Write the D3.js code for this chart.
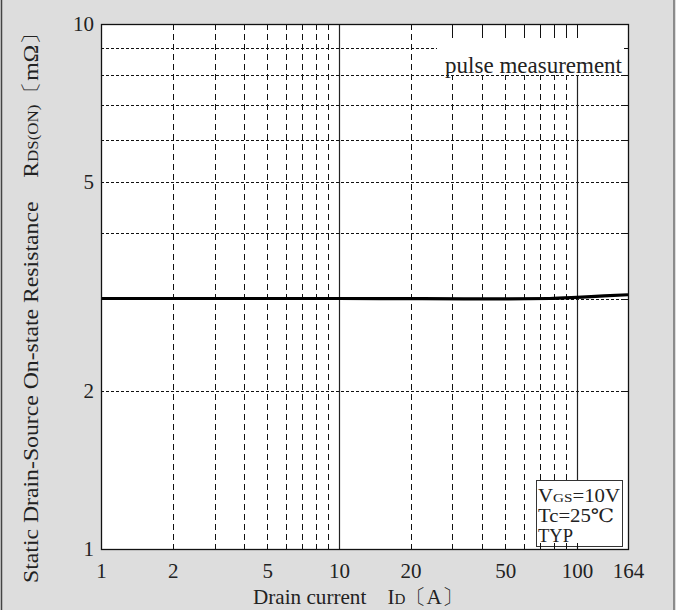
<!DOCTYPE html>
<html><head><meta charset="utf-8">
<script src="https://cdn.jsdelivr.net/npm/d3@7"></script>
<style>body{margin:0;background:#dddddd;overflow:hidden}</style>
</head><body><svg id="c" width="676" height="610"></svg>
<script>
// ---- data ----
const currentA   = [1, 10, 50, 77, 100, 130, 164];
const resistance = [3.0, 3.0, 2.995, 3.0, 3.015, 3.035, 3.05];
const xTickValues = [1, 2, 5, 10, 20, 50, 100, 164];
const yTickValues = [1, 2, 5, 10];
const xGridDashed = [2, 3, 4, 5, 6, 7, 8, 9, 20, 30, 40, 50, 60, 70, 80, 90];
const xGridSolid  = [10, 100];
const yGridDashed = [2, 3, 4, 5, 6, 7, 8, 9];
const topTickValues = [30, 40, 50, 60, 70, 80, 90, 100];
const bottomTickValues = [70, 80, 90, 100];
const condLines = [["V", "GS", "=10V"], ["Tc=25℃", "", ""], ["TYP", "", ""]];

// ---- layout ----
const L = 101, R = 628, T = 24, B = 549;
const FONT = "'Liberation Serif','DejaVu Serif','Times New Roman',serif";
const svg = d3.select("#c");
const x = d3.scaleLog().domain([1, 164]).range([L, R]);
const y = d3.scaleLog().domain([1, 10]).range([B, T]);

svg.append("rect").attr("width", 676).attr("height", 610).attr("fill", "#dddddd");
svg.append("line").attr("x1", 1.5).attr("x2", 1.5).attr("y1", 0).attr("y2", 610).attr("stroke", "#444").attr("stroke-width", 1.5);
svg.append("line").attr("x1", 674).attr("x2", 674).attr("y1", 0).attr("y2", 610).attr("stroke", "#555").attr("stroke-width", 1.2);

svg.append("rect").attr("x", L).attr("y", T).attr("width", R - L).attr("height", B - T).attr("fill", "#fff");

const g = svg.append("g");
g.selectAll(".vg").data(xGridDashed).enter().append("line")
  .attr("x1", d => Math.round(x(d)) + 0.5).attr("x2", d => Math.round(x(d)) + 0.5)
  .attr("y1", T).attr("y2", B)
  .attr("stroke", "#111").attr("stroke-width", 1).attr("stroke-dasharray", "6,4");
g.selectAll(".hg").data(yGridDashed).enter().append("line")
  .attr("x1", L).attr("x2", R)
  .attr("y1", d => Math.round(y(d)) + 0.5).attr("y2", d => Math.round(y(d)) + 0.5)
  .attr("stroke", "#111").attr("stroke-width", 1).attr("stroke-dasharray", "3,2");
g.selectAll(".vs").data(xGridSolid).enter().append("line")
  .attr("x1", d => Math.round(x(d)) + 0.5).attr("x2", d => Math.round(x(d)) + 0.5)
  .attr("y1", T).attr("y2", B)
  .attr("stroke", "#222").attr("stroke-width", 1.2);

// data curve
const line = d3.line().x((d, i) => x(currentA[i])).y(d => y(d)).curve(d3.curveMonotoneX);
svg.append("path").attr("d", line(resistance)).attr("fill", "none")
  .attr("stroke", "#000").attr("stroke-width", 3.2);

// label background (pulse measurement)
svg.append("rect").attr("x", 437).attr("y", T + 1).attr("width", R - 437 - 1).attr("height", Math.round(y(8)) - T - 1).attr("fill", "#fff");
svg.selectAll(".tt").data(topTickValues).enter().append("line")
  .attr("x1", d => Math.round(x(d)) + 0.5).attr("x2", d => Math.round(x(d)) + 0.5)
  .attr("y1", T).attr("y2", T + 14).attr("stroke", "#111").attr("stroke-width", 1);
svg.append("text").attr("x", 622).attr("y", 73).attr("text-anchor", "end")
  .attr("font-family", FONT).attr("font-size", 23).attr("fill", "#222").text("pulse measurement");

// conditions box
svg.append("rect").attr("x", 536.5).attr("y", 480.5).attr("width", 86).attr("height", 66)
  .attr("fill", "#fff").attr("stroke", "#333").attr("stroke-width", 1);
svg.selectAll(".bt").data(bottomTickValues).enter().append("line")
  .attr("x1", d => Math.round(x(d)) + 0.5).attr("x2", d => Math.round(x(d)) + 0.5)
  .attr("y1", B).attr("y2", B - 6).attr("stroke", "#111").attr("stroke-width", 1);
condLines.forEach((parts, i) => {
  const t = svg.append("text").attr("x", 538).attr("y", 502 + i * 20)
    .attr("font-family", FONT).attr("font-size", 18.5).attr("fill", "#222")
    .attr("textLength", i === 0 ? 82 : (i === 1 ? 76 : null))
    .attr("lengthAdjust", "spacingAndGlyphs");
  t.append("tspan").text(parts[0]);
  if (parts[1]) t.append("tspan").attr("font-size", 13.5).text(parts[1]);
  if (parts[2]) t.append("tspan").text(parts[2]);
});

// right border ticks
svg.selectAll(".rt").data(yGridDashed).enter().append("line")
  .attr("x1", R - 4).attr("x2", R).attr("y1", d => Math.round(y(d)) + 0.5).attr("y2", d => Math.round(y(d)) + 0.5)
  .attr("stroke", "#111");

// plot frame
svg.append("rect").attr("x", L + 0.5).attr("y", T + 0.5).attr("width", R - L).attr("height", B - T)
  .attr("fill", "none").attr("stroke", "#111").attr("stroke-width", 1.3);

// axes tick labels
const xAxis = d3.axisBottom(x).tickValues(xTickValues).tickFormat(d3.format("d")).tickSize(0).tickPadding(14);
const ax = svg.append("g").attr("transform", `translate(0,${B})`).call(xAxis);
ax.select(".domain").remove();
ax.selectAll("text").attr("font-family", FONT).attr("font-size", 21).attr("fill", "#222");

const yAxis = d3.axisLeft(y).tickValues(yTickValues).tickFormat(d3.format("d")).tickSize(0).tickPadding(7);
const ay = svg.append("g").attr("transform", `translate(${L},0)`).call(yAxis);
ay.select(".domain").remove();
ay.selectAll("text").attr("font-family", FONT).attr("font-size", 21).attr("fill", "#222");

// axis titles
const xt = svg.append("text").attr("x", 358).attr("y", 604).attr("text-anchor", "middle")
  .attr("font-family", FONT).attr("font-size", 21).attr("fill", "#222")
  .attr("textLength", 210).attr("lengthAdjust", "spacingAndGlyphs");
xt.append("tspan").text("Drain current\u2003I");
xt.append("tspan").attr("font-size", 15).text("D");
xt.append("tspan").text("〔A〕");

const yt = svg.append("text").attr("transform", "translate(38,302) rotate(-90)").attr("text-anchor", "middle")
  .attr("font-family", FONT).attr("font-size", 21).attr("fill", "#222")
  .attr("textLength", 562).attr("lengthAdjust", "spacingAndGlyphs");
yt.append("tspan").text("Static Drain-Source On-state Resistance\u2003R");
yt.append("tspan").attr("font-size", 15).text("DS(ON)");
yt.append("tspan").text("〔mΩ〕");
</script></body></html>
